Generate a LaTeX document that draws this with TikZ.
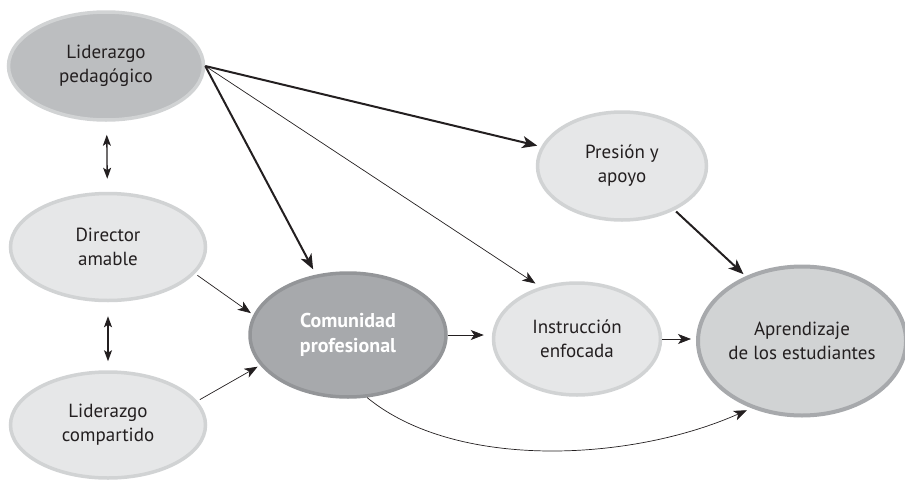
\documentclass[tikz,border=0pt]{standalone}
\usepackage{fontspec}
\setmainfont{PT Sans}
\usetikzlibrary{arrows.meta,shapes.geometric}
\definecolor{lightfill}{HTML}{E6E7E8}
\definecolor{lightborder}{HTML}{D1D3D4}
\definecolor{midfill}{HTML}{BCBEC0}
\definecolor{darkfill}{HTML}{A7A9AC}
\definecolor{darkborder}{HTML}{939598}
\definecolor{aprfill}{HTML}{D1D3D4}
\definecolor{textcol}{HTML}{231F20}
\begin{document}
\begin{tikzpicture}[x=1pt,y=-1pt,
  oval/.style={ellipse,line width=3.5pt,align=center,font=\fontsize{19}{24}\selectfont,text=textcol,inner sep=0pt},
  plain/.style={oval,fill=lightfill,draw=lightborder},
  thin/.style={-{Stealth[length=13pt,width=10pt,inset=3.5pt]},line width=0.7pt,draw=textcol},
  thick/.style={-{Stealth[length=15pt,width=12pt,inset=4pt]},line width=2pt,draw=textcol},
  both/.style={{Stealth[length=11pt,width=8pt,inset=2.5pt]}-{Stealth[length=11pt,width=8pt,inset=2.5pt]},line width=1.3pt,draw=textcol}]
\useasboundingbox (0,0) rectangle (905,485);
\node[oval,fill=midfill,draw=lightborder,minimum width=195pt,minimum height=108pt] (lp) at (106,66) {Liderazgo\\pedagógico};
\node[plain,minimum width=195pt,minimum height=107pt] (da) at (108,247) {Director\\amable};
\node[plain,minimum width=195pt,minimum height=106pt] (lc) at (108,425) {Liderazgo\\compartido};
\node[oval,fill=darkfill,draw=darkborder,text=white,font=\fontsize{20}{25}\selectfont\bfseries,minimum width=196pt,minimum height=124pt] (cp) at (348,335) {Comunidad\\profesional};
\node[plain,minimum width=167pt,minimum height=112pt] (ie) at (577,339) {Instrucción\\enfocada};
\node[plain,minimum width=169pt,minimum height=108pt] (pa) at (622,166) {Presión y\\apoyo};
\node[oval,fill=aprfill,draw=darkfill,line width=4pt,minimum width=187pt,minimum height=149pt] (ae) at (802,341) {Aprendizaje\\de los estudiantes};
\draw[both,shorten <=13pt,shorten >=13pt] (lp) -- (da);
\draw[both,shorten <=14pt,shorten >=9pt] (da) -- (lc);
\draw[thick,shorten >=4pt] (lp.east) -- (pa);
\draw[thick,shorten >=6pt] (lp.east) -- (cp);
\draw[thin,shorten >=6pt] (lp.east) -- (ie.125);
\draw[thick,shorten <=2pt,shorten >=3pt] (pa.-40) -- (ae.131);
\draw[thin,shorten <=3pt,shorten >=3pt] (da.-17) -- (cp.168);
\draw[thin,shorten <=3pt,shorten >=3pt] (lc.15) -- (cp.-161);
\draw[thin,shorten >=8pt] (cp.east) -- (cp.east -| ie.west);
\draw[thin,shorten >=5pt] (ie.east) -- (ie.east -| ae.west);
\draw[thin,shorten >=5pt] (cp.-73) .. controls (455,470) and (630,462) .. (ae.-127);
\end{tikzpicture}
\end{document}
